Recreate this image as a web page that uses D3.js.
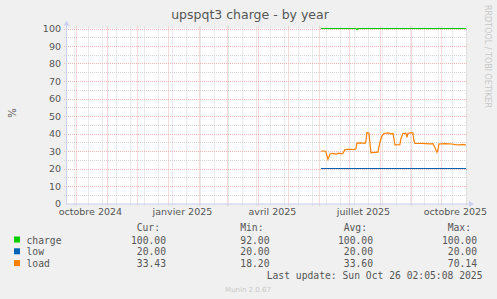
<!doctype html>
<html lang="fr">
<head>
  <meta charset="utf-8">
  <title>upspqt3 charge - by year</title>
  <script src="https://cdn.jsdelivr.net/npm/d3@7"></script>
  <style>
    body { margin: 0; background: #f0f0f0; }
    svg { display: block; }
    text { font-family: "DejaVu Sans", sans-serif; }
    .mono { font-family: "DejaVu Sans Mono", monospace; }
  </style>
</head>
<body>
<div id="chart"></div>
<script>
// data
var yTicks = [0, 10, 20, 30, 40, 50, 60, 70, 80, 90, 100];
var xTickDates = ["2024-10-01", "2025-01-01", "2025-04-01", "2025-07-01", "2025-10-01"];
var xTickLabels = ["octobre 2024", "janvier 2025", "avril 2025", "juillet 2025", "octobre 2025"];

var chargeDates = ["2025-06-03", "2025-07-08", "2025-07-09", "2025-07-10", "2025-10-26"];
var chargeValues = [100, 100, 99.4, 100, 100];

var lowDates = ["2025-06-03", "2025-10-26"];
var lowValues = [20, 20];

var loadDates = ["2025-06-03", "2025-06-07", "2025-06-08", "2025-06-10", "2025-06-11", "2025-06-12",
  "2025-06-15", "2025-06-18", "2025-06-21", "2025-06-24", "2025-06-25", "2025-06-27", "2025-07-02",
  "2025-07-06", "2025-07-08", "2025-07-09", "2025-07-13", "2025-07-17", "2025-07-18", "2025-07-19",
  "2025-07-21", "2025-07-22", "2025-07-23", "2025-07-27", "2025-07-30", "2025-08-01", "2025-08-03",
  "2025-08-05", "2025-08-09", "2025-08-12", "2025-08-14", "2025-08-15", "2025-08-16", "2025-08-21",
  "2025-08-22", "2025-08-24", "2025-08-27", "2025-08-28", "2025-08-29", "2025-09-01", "2025-09-03",
  "2025-09-04", "2025-09-05", "2025-09-12", "2025-09-20", "2025-09-23", "2025-09-25", "2025-09-27",
  "2025-09-28", "2025-09-29", "2025-10-05", "2025-10-12", "2025-10-15", "2025-10-20", "2025-10-23",
  "2025-10-26"];
var loadValues = [30, 30, 29.5, 25.3, 26.5, 28.3,
  28.6, 28.2, 28.8, 28.4, 28.6, 30.8, 31,
  30.8, 31.2, 34.5, 34.6, 34.4, 35.5, 40.5,
  40.2, 35, 29, 29.2, 29.3, 35, 38.5,
  40, 40.3, 39.8, 40, 37, 33.5, 33.6,
  37, 40, 40.2, 37.8, 40, 40.5, 40.3,
  36, 34.3, 34.4, 34.1, 34.2, 32, 29.3,
  30.5, 34, 34.2, 34, 33.6, 33.5, 33.8,
  33.4];

var legendNames = ["charge", "low", "load"];
var legendColors = ["#00cc00", "#0066b3", "#ff8000"];
var curValues = ["100.00", "20.00", "33.43"];
var minValues = ["92.00", "20.00", "18.20"];
var avgValues = ["100.00", "20.00", "33.60"];
var maxValues = ["100.00", "20.00", "70.14"];

var width = 497, height = 299;
var plotL = 66, plotR = 466, plotT = 28.5, plotB = 203.5;
var majorColor = "#eeb4b4", minorColor = "#d4d4d4";

var parse = d3.timeParse("%Y-%m-%d");
var end = new Date(2025, 9, 26, 2, 5, 8);
var start = d3.timeDay.offset(end, -400);

var x = d3.scaleTime().domain([start, end]).range([plotL, plotR]);
var y = d3.scaleLinear().domain([0, 100]).range([plotB, plotT]);

var svg = d3.select("#chart").append("svg")
  .attr("width", width).attr("height", height);

svg.append("rect").attr("x", plotL).attr("y", plotT)
  .attr("width", plotR - plotL).attr("height", plotB - plotT).attr("fill", "#fff");

function px(v){ return Math.round(v) + 0.5; }

// minor grid
var minorY = d3.range(5, 100, 10);
svg.selectAll(".hminor").data(minorY).enter().append("line")
  .attr("x1", plotL - 2).attr("x2", plotR + 2)
  .attr("y1", function(d){ return px(y(d)); })
  .attr("y2", function(d){ return px(y(d)); })
  .attr("stroke", minorColor).attr("stroke-dasharray", "1,1");

var weeks = d3.timeSunday.range(start, end).filter(function(d, i){ return i % 2 == 1; });
svg.selectAll(".vminor").data(weeks).enter().append("line")
  .attr("x1", function(d){ return px(x(d)); })
  .attr("x2", function(d){ return px(x(d)); })
  .attr("y1", plotT - 2).attr("y2", plotB + 2)
  .attr("stroke", minorColor).attr("stroke-dasharray", "1,1");

// major grid
svg.selectAll(".hmajor").data(yTicks.slice(1)).enter().append("line")
  .attr("x1", plotL - 2).attr("x2", plotR + 2)
  .attr("y1", function(d){ return px(y(d)); })
  .attr("y2", function(d){ return px(y(d)); })
  .attr("stroke", majorColor).attr("stroke-dasharray", "1,1");

var months = d3.timeMonth.range(start, end);
svg.selectAll(".vmajor").data(months).enter().append("line")
  .attr("x1", function(d){ return px(x(d)); })
  .attr("x2", function(d){ return px(x(d)); })
  .attr("y1", plotT - 2).attr("y2", plotB + 3)
  .attr("stroke", majorColor).attr("stroke-dasharray", "1,1");

// axes lines + arrows
svg.append("line").attr("x1", plotL + 0.5).attr("x2", plotL + 0.5)
  .attr("y1", plotB).attr("y2", plotT - 4).attr("stroke", "#ccd0f0");
svg.append("line").attr("x1", plotL).attr("x2", plotR + 3)
  .attr("y1", plotB + 0.5).attr("y2", plotB + 0.5).attr("stroke", "#ccd0f0");
svg.append("path").attr("d", "M" + (plotL - 2.5) + "," + (plotT - 3) + "L" + (plotL + 0.5) + "," + (plotT - 8) + "L" + (plotL + 3.5) + "," + (plotT - 3) + "Z")
  .attr("fill", "#ccd0f0");
svg.append("path").attr("d", "M" + (plotR + 3) + "," + (plotB - 2.5) + "L" + (plotR + 8) + "," + (plotB + 0.5) + "L" + (plotR + 3) + "," + (plotB + 3.5) + "Z")
  .attr("fill", "#ccd0f0");

// tick labels
var yAxis = svg.append("g").attr("transform", "translate(" + (plotL - 5) + ",0)")
  .call(d3.axisLeft(y).tickValues(yTicks).tickSize(0).tickPadding(0));
yAxis.select(".domain").remove();
yAxis.selectAll("text").attr("font-family", "DejaVu Sans").attr("font-size", 9.5).attr("fill", "#555");

var labelDates = xTickDates.map(function(s){ return d3.timeDay.offset(parse(s), 14); });
var xAxis = svg.append("g").attr("transform", "translate(0," + (plotB + 5) + ")")
  .call(d3.axisBottom(x).tickValues(labelDates).tickSize(0).tickPadding(0)
    .tickFormat(function(d, i){ return xTickLabels[i]; }));
xAxis.select(".domain").remove();
xAxis.selectAll("text").attr("font-family", "DejaVu Sans").attr("font-size", 9.5).attr("fill", "#555");

// series
function series(dates, values, color) {
  var pts = dates.map(function(d, i){ return [parse(d), values[i]]; });
  var line = d3.line().x(function(p){ return x(p[0]); }).y(function(p){ return y(p[1]); });
  svg.append("path").datum(pts).attr("d", line)
    .attr("fill", "none").attr("stroke", color).attr("stroke-width", 1.2);
}
series(chargeDates, chargeValues, legendColors[0]);
series(lowDates, lowValues, legendColors[1]);
series(loadDates, loadValues, legendColors[2]);

// titles
svg.append("text").attr("x", 250).attr("y", 19).attr("text-anchor", "middle")
  .attr("font-size", 12.5).attr("fill", "#555").text("upspqt3 charge - by year");
svg.append("text").attr("transform", "translate(16,113) rotate(-90)").attr("text-anchor", "middle")
  .attr("font-size", 10).attr("fill", "#555").text("%");
svg.append("text").attr("transform", "translate(484.5,5) rotate(90)")
  .attr("font-size", 8).attr("fill", "#c8c8c8").text("RRDTOOL / TOBI OETIKER");

// legend
var colEnds = [166, 269.5, 373, 477];
var headers = ["Cur:", "Min:", "Avg:", "Max:"];
var cols = [curValues, minValues, avgValues, maxValues];
headers.forEach(function(h, c){
  svg.append("text").attr("class", "mono").attr("x", colEnds[c] - 6).attr("y", 231)
    .attr("text-anchor", "end").attr("font-size", 9.7).attr("fill", "#555").text(h);
});
legendNames.forEach(function(n, r){
  var yy = 243.5 + r * 11.8;
  svg.append("rect").attr("x", 14).attr("y", yy - 7).attr("width", 6).attr("height", 6)
    .attr("fill", legendColors[r]);
  svg.append("text").attr("class", "mono").attr("x", 26.5).attr("y", yy)
    .attr("font-size", 9.7).attr("fill", "#555").text(n);
  cols.forEach(function(vals, c){
    svg.append("text").attr("class", "mono").attr("x", colEnds[c]).attr("y", yy)
      .attr("text-anchor", "end").attr("font-size", 9.7).attr("fill", "#555").text(vals[r]);
  });
});
svg.append("text").attr("class", "mono").attr("x", 482.5).attr("y", 279)
  .attr("text-anchor", "end").attr("font-size", 9.7).attr("fill", "#555")
  .text("Last update: Sun Oct 26 02:05:08 2025");
svg.append("text").attr("x", 248).attr("y", 291.5).attr("text-anchor", "middle")
  .attr("font-size", 7).attr("fill", "#c8c8c8").text("Munin 2.0.67");
</script>
</body>
</html>
